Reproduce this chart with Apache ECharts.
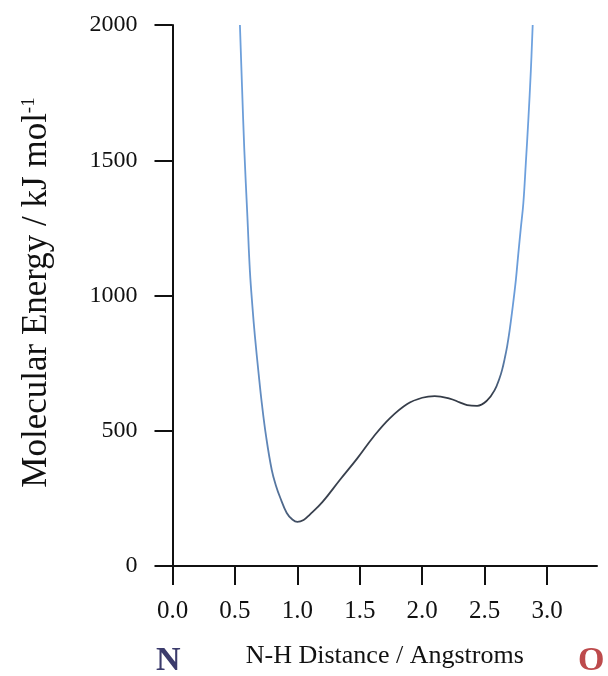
<!DOCTYPE html>
<html>
<head>
<meta charset="utf-8">
<script src="https://cdn.jsdelivr.net/npm/echarts@6/dist/echarts.min.js"></script>
<style>
html,body{margin:0;padding:0;background:#fff;}
#chart{width:608px;height:676px;}
</style>
</head>
<body>
<div id="chart"></div>
<script>
// N-H distance (Angstroms)
const distance = [0.54, 0.557, 0.575, 0.60, 0.62, 0.64, 0.66, 0.69, 0.715, 0.75, 0.795, 0.83, 0.86, 0.915, 0.96, 1.0, 1.05, 1.10, 1.20, 1.34, 1.48, 1.61, 1.74, 1.88, 2.0, 2.1, 2.22, 2.3, 2.36, 2.44, 2.52, 2.58, 2.62, 2.64, 2.66, 2.68, 2.70, 2.72, 2.75, 2.77, 2.79, 2.81, 2.83, 2.85, 2.87, 2.885];
// Molecular energy (kJ/mol)
const energy = [2000, 1770, 1540, 1290, 1090, 960, 850, 710, 603, 478, 355, 295, 256, 196, 172, 163, 170, 190, 236, 318, 398, 478, 546, 599, 622, 628, 619, 605, 595, 592, 612, 650, 695, 725, 765, 811, 870, 940, 1057, 1156, 1250, 1341, 1490, 1649, 1830, 2000];
const xTickValues = [0, 0.5, 1.0, 1.5, 2.0, 2.5, 3.0];
const yTickValues = [0, 500, 1000, 1500, 2000];
const xTitle = 'N-H Distance / Angstroms';
const yTitle = 'Molecular Energy / kJ mol';
const leftAtom = 'N';
const rightAtom = 'O';

const serif = "'Liberation Serif', 'DejaVu Serif', serif";
const chart = echarts.init(document.getElementById('chart'), null, {renderer: 'canvas'});
const points = distance.map((d, i) => [d, energy[i]]);

chart.setOption({
  backgroundColor: '#ffffff',
  animation: false,
  grid: {left: 172.5, top: 25, right: 11, bottom: 110, containLabel: false},
  xAxis: {
    type: 'value', min: 0, max: 3.4, interval: 0.5,
    splitLine: {show: false},
    axisLine: {show: true, onZero: false, lineStyle: {color: '#111', width: 2}},
    axisTick: {show: true, length: 19, lineStyle: {color: '#111', width: 2}, customValues: xTickValues},
    axisLabel: {customValues: xTickValues, formatter: v => Number(v).toFixed(1), margin: 33, fontSize: 25, color: '#111', fontFamily: serif},
    name: xTitle, nameLocation: 'middle', nameGap: 77,
    nameTextStyle: {fontSize: 26, color: '#111', fontFamily: serif}
  },
  yAxis: {
    type: 'value', min: 0, max: 2000, interval: 500,
    splitLine: {show: false},
    axisLine: {show: true, lineStyle: {color: '#111', width: 2}},
    axisTick: {show: true, length: 18, lineStyle: {color: '#111', width: 2}, customValues: yTickValues},
    axisLabel: {customValues: yTickValues, formatter: v => String(v), margin: 35, fontSize: 24, color: '#111', fontFamily: serif},
    name: yTitle + '{sup|-1}', nameLocation: 'middle', nameGap: 118, nameRotate: 90,
    nameTextStyle: {
      fontSize: 35, color: '#111', fontFamily: serif, padding: [0, 0, 0, 6],
      rich: {sup: {fontSize: 19, color: '#111', fontFamily: serif, verticalAlign: 'top', padding: [0, 0, 16, 0]}}
    }
  },
  graphic: [
    {type: 'text', left: 156, top: 644, style: {text: leftAtom, font: "bold 34px 'Liberation Serif'", fill: '#3b3b6c'}},
    {type: 'text', left: 578, top: 644, style: {text: rightAtom, font: "bold 34px 'Liberation Serif'", fill: '#bd4a4c'}}
  ],
  series: [{
    type: 'line', data: points, smooth: 0.4, showSymbol: false, clip: true,
    lineStyle: {
      width: 1.8,
      color: new echarts.graphic.LinearGradient(0, 0, 1, 0, [
        {offset: 0, color: '#6fa3e0'},
        {offset: 0.1, color: '#5f86b8'},
        {offset: 0.22, color: '#3a4250'},
        {offset: 0.85, color: '#333a45'},
        {offset: 0.92, color: '#6a9bd8'},
        {offset: 1, color: '#6fa3e0'}
      ])
    }
  }]
});
</script>
</body>
</html>
